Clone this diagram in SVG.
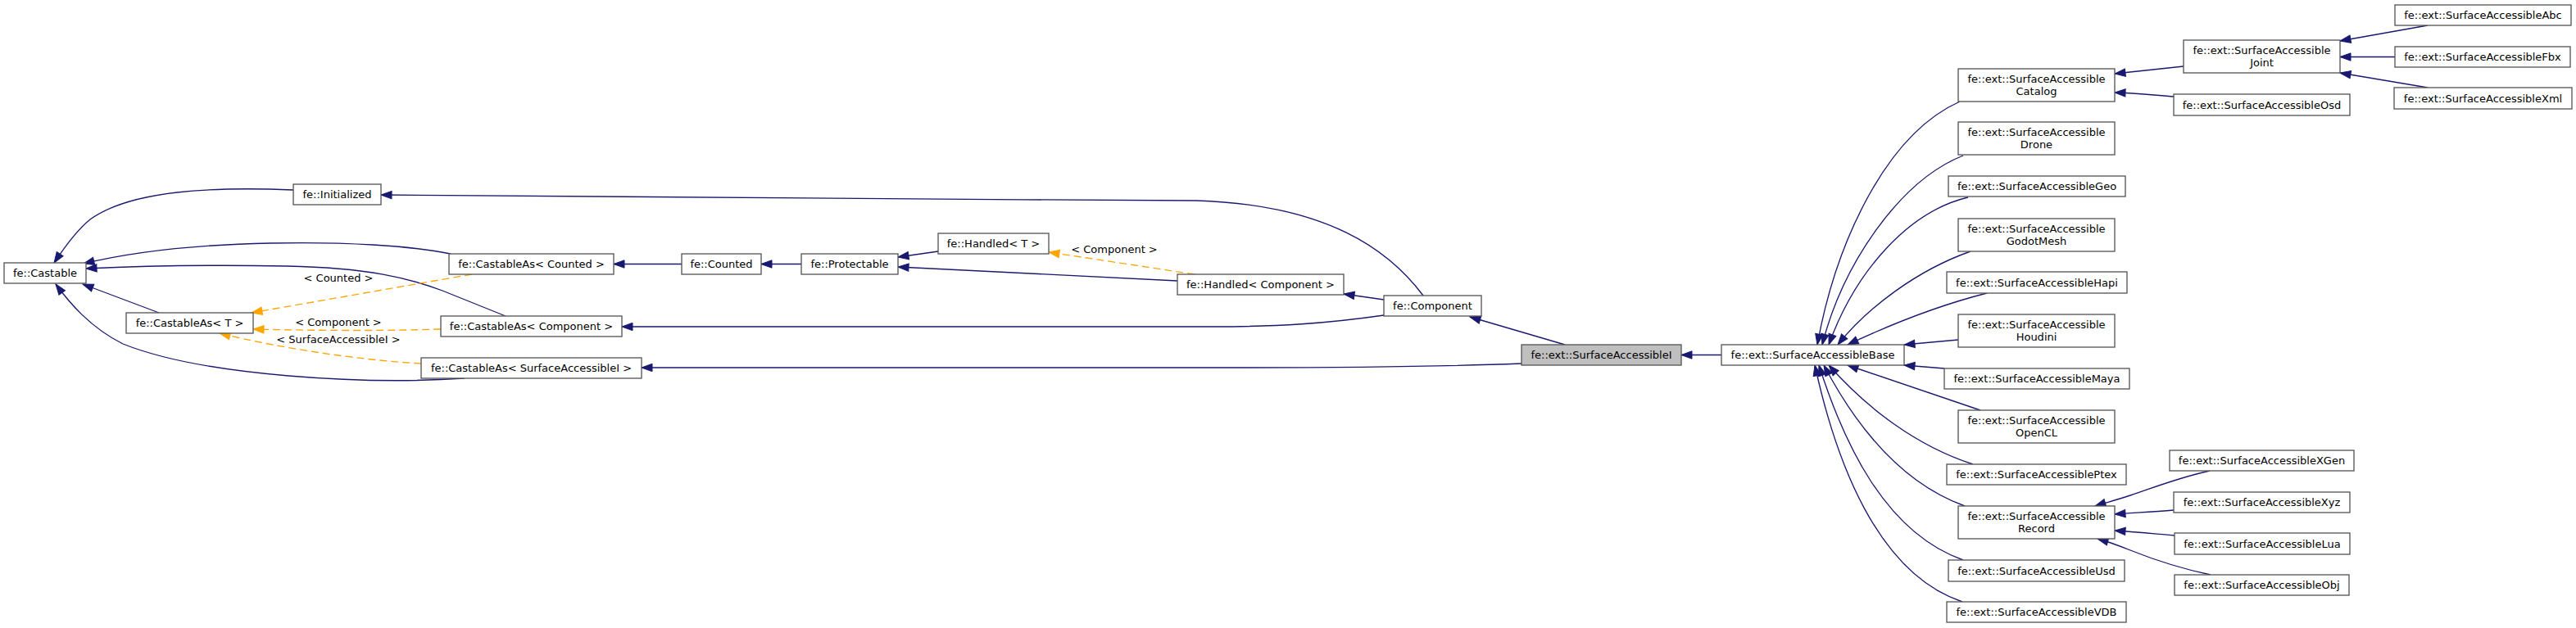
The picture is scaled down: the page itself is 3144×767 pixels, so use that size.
<svg xmlns="http://www.w3.org/2000/svg" width="3144" height="767" viewBox="0 0 3144 767">
<style>
.n rect{fill:#ffffff;stroke:#555555;stroke-width:1.33}
.n.root rect{fill:#bfbfbf}
text{font-family:"DejaVu Sans","Liberation Sans",sans-serif;font-size:13px;text-anchor:middle;fill:#000000}
.e{fill:none;stroke:#191970;stroke-width:1.33;marker-end:url(#ab)}
.d{fill:none;stroke:#ffa500;stroke-width:1.33;stroke-dasharray:9,5;marker-end:url(#ao)}
</style>
<defs>
<marker id="ab" markerUnits="userSpaceOnUse" markerWidth="16" markerHeight="12" viewBox="-14 -6 16 12" refX="0" refY="0" orient="auto"><path d="M0,0 L-13,-4.7 L-13,4.7 Z" fill="#191970" stroke="#191970" stroke-width="1"/></marker>
<marker id="ao" markerUnits="userSpaceOnUse" markerWidth="16" markerHeight="12" viewBox="-14 -6 16 12" refX="0" refY="0" orient="auto"><path d="M0,0 L-13,-4.7 L-13,4.7 Z" fill="#ffa500" stroke="#ffa500" stroke-width="1"/></marker>
</defs>
<rect x="0" y="0" width="3144" height="767" fill="#ffffff"/>
<g id="connectors">
<path class="e" d="M358,232 C260,228 160,232 110,268 C95,280 80,300 66,321"/>
<path class="e" d="M550,310 C500,300 420,295 330,297 C230,299 160,308 102,322"/>
<path class="e" d="M617,386 L540,355 C500,340 450,327 350,325 C250,323 170,325 105,328"/>
<path class="e" d="M194,382 L101,347"/>
<path class="e" d="M567,462 C450,470 250,460 150,420 C110,400 85,370 68,347"/>
<path class="d" d="M576,335 L307,382"/>
<text x="413" y="344">&lt; Counted &gt;</text>
<path class="d" d="M538,402 C480,404 400,404 309,402"/>
<text x="413" y="398">&lt; Component &gt;</text>
<path class="d" d="M514,444 C440,440 340,425 268,407"/>
<text x="413" y="419">&lt; SurfaceAccessibleI &gt;</text>
<path class="e" d="M832,322.5 L749,322.5"/>
<path class="e" d="M978,322.5 L929,322.5"/>
<path class="e" d="M1145,307 L1096,314"/>
<path class="e" d="M1437,343 L1096,326"/>
<path class="d" d="M1458,335 L1280,308"/>
<text x="1360" y="309">&lt; Component &gt;</text>
<path class="e" d="M1737,361 C1695,305 1620,250 1460,245 C1100,243 700,241 465,238"/>
<path class="e" d="M1689,366 L1640,359"/>
<path class="e" d="M1689,385 C1620,395 1560,399 1480,399 L759,399"/>
<path class="e" d="M1857,444 C1750,448 1650,449 1500,449 L783,449"/>
<path class="e" d="M1910,421 L1794,387"/>
<path class="e" d="M2101,433.5 L2052,433.5"/>
<path class="e" d="M2392,124 C2300,165 2240,300 2218,421"/>
<path class="e" d="M2396,190 C2320,220 2250,320 2224,421"/>
<path class="e" d="M2402,241 C2330,258 2265,330 2232,421"/>
<path class="e" d="M2405,307 C2340,330 2280,375 2243,421"/>
<path class="e" d="M2425,358 C2370,372 2310,395 2255,421"/>
<path class="e" d="M2390,415 L2324,421"/>
<path class="e" d="M2373,450 L2324,446"/>
<path class="e" d="M2417,501 L2255,446"/>
<path class="e" d="M2408,567 C2340,545 2280,500 2232,446"/>
<path class="e" d="M2398,618 C2320,590 2265,520 2226,446"/>
<path class="e" d="M2396,684 C2300,650 2250,540 2220,446"/>
<path class="e" d="M2395,735 C2290,700 2240,560 2215,446"/>
<path class="e" d="M2665,81 L2581,90"/>
<path class="e" d="M2653,118 C2630,116 2610,114 2581,113"/>
<path class="e" d="M2963,31 L2856,50"/>
<path class="e" d="M2923,69.5 L2856,69.5"/>
<path class="e" d="M2963,107 L2856,89"/>
<path class="e" d="M2697,575 C2660,583 2630,595 2600,605 C2585,610 2570,614 2557,618"/>
<path class="e" d="M2653,623 C2630,625 2610,626 2581,628"/>
<path class="e" d="M2654,654 C2630,652 2610,650 2581,648"/>
<path class="e" d="M2698,702 C2660,694 2630,684 2600,672 C2585,666 2575,662 2560,658"/>
</g>
<g id="castable" class="n"><rect x="5" y="321" width="100" height="25"/><text x="55" y="338">fe::Castable</text></g>
<g id="initialized" class="n"><rect x="358" y="225" width="107" height="25"/><text x="411.5" y="242">fe::Initialized</text></g>
<g id="castableas_t" class="n"><rect x="154" y="382" width="155" height="25"/><text x="231.5" y="399">fe::CastableAs&lt; T &gt;</text></g>
<g id="castableas_counted" class="n"><rect x="548" y="310" width="201" height="25"/><text x="648.5" y="327">fe::CastableAs&lt; Counted &gt;</text></g>
<g id="counted" class="n"><rect x="832" y="310" width="97" height="25"/><text x="880.5" y="327">fe::Counted</text></g>
<g id="castableas_component" class="n"><rect x="538" y="386" width="221" height="25"/><text x="648.5" y="403">fe::CastableAs&lt; Component &gt;</text></g>
<g id="castableas_sai" class="n"><rect x="514" y="437" width="269" height="25"/><text x="648.5" y="454">fe::CastableAs&lt; SurfaceAccessibleI &gt;</text></g>
<g id="protectable" class="n"><rect x="978" y="310" width="118" height="25"/><text x="1037" y="327">fe::Protectable</text></g>
<g id="handled_t" class="n"><rect x="1145" y="285" width="135" height="25"/><text x="1212.5" y="302">fe::Handled&lt; T &gt;</text></g>
<g id="handled_component" class="n"><rect x="1437" y="335" width="203" height="25"/><text x="1538.5" y="352">fe::Handled&lt; Component &gt;</text></g>
<g id="component" class="n"><rect x="1689" y="361" width="119" height="25"/><text x="1748.5" y="378">fe::Component</text></g>
<g id="sai" class="n root"><rect x="1857" y="421" width="195" height="25"/><text x="1954.5" y="438">fe::ext::SurfaceAccessibleI</text></g>
<g id="base" class="n"><rect x="2101" y="421" width="223" height="25"/><text x="2212.5" y="438">fe::ext::SurfaceAccessibleBase</text></g>
<g id="catalog" class="n"><rect x="2390" y="84" width="191" height="40"/><text x="2485.5" y="100.5">fe::ext::SurfaceAccessible</text><text x="2485.5" y="115.5">Catalog</text></g>
<g id="drone" class="n"><rect x="2390" y="149" width="191" height="40"/><text x="2485.5" y="165.5">fe::ext::SurfaceAccessible</text><text x="2485.5" y="180.5">Drone</text></g>
<g id="geo" class="n"><rect x="2378" y="215" width="216" height="25"/><text x="2486" y="232">fe::ext::SurfaceAccessibleGeo</text></g>
<g id="godotmesh" class="n"><rect x="2390" y="267" width="191" height="40"/><text x="2485.5" y="283.5">fe::ext::SurfaceAccessible</text><text x="2485.5" y="298.5">GodotMesh</text></g>
<g id="hapi" class="n"><rect x="2376" y="332" width="220" height="26"/><text x="2486" y="349.5">fe::ext::SurfaceAccessibleHapi</text></g>
<g id="houdini" class="n"><rect x="2390" y="384" width="191" height="40"/><text x="2485.5" y="400.5">fe::ext::SurfaceAccessible</text><text x="2485.5" y="415.5">Houdini</text></g>
<g id="maya" class="n"><rect x="2373" y="450" width="226" height="25"/><text x="2486" y="467">fe::ext::SurfaceAccessibleMaya</text></g>
<g id="opencl" class="n"><rect x="2390" y="501" width="191" height="40"/><text x="2485.5" y="517.5">fe::ext::SurfaceAccessible</text><text x="2485.5" y="532.5">OpenCL</text></g>
<g id="ptex" class="n"><rect x="2376" y="567" width="219" height="25"/><text x="2485.5" y="584">fe::ext::SurfaceAccessiblePtex</text></g>
<g id="record" class="n"><rect x="2390" y="618" width="191" height="40"/><text x="2485.5" y="634.5">fe::ext::SurfaceAccessible</text><text x="2485.5" y="649.5">Record</text></g>
<g id="usd" class="n"><rect x="2378" y="684" width="215" height="26"/><text x="2485.5" y="701.5">fe::ext::SurfaceAccessibleUsd</text></g>
<g id="vdb" class="n"><rect x="2376" y="735" width="219" height="25"/><text x="2485.5" y="752">fe::ext::SurfaceAccessibleVDB</text></g>
<g id="joint" class="n"><rect x="2665" y="49" width="191" height="40"/><text x="2760.5" y="65.5">fe::ext::SurfaceAccessible</text><text x="2760.5" y="80.5">Joint</text></g>
<g id="osd" class="n"><rect x="2653" y="115" width="215" height="26"/><text x="2760.5" y="132.5">fe::ext::SurfaceAccessibleOsd</text></g>
<g id="abc" class="n"><rect x="2923" y="6" width="215" height="25"/><text x="3030.5" y="23">fe::ext::SurfaceAccessibleAbc</text></g>
<g id="fbx" class="n"><rect x="2923" y="57" width="214" height="25"/><text x="3030" y="74">fe::ext::SurfaceAccessibleFbx</text></g>
<g id="xml" class="n"><rect x="2922" y="107" width="217" height="26"/><text x="3030.5" y="124.5">fe::ext::SurfaceAccessibleXml</text></g>
<g id="xgen" class="n"><rect x="2648" y="550" width="225" height="25"/><text x="2760.5" y="567">fe::ext::SurfaceAccessibleXGen</text></g>
<g id="xyz" class="n"><rect x="2653" y="601" width="215" height="25"/><text x="2760.5" y="618">fe::ext::SurfaceAccessibleXyz</text></g>
<g id="lua" class="n"><rect x="2654" y="651" width="214" height="26"/><text x="2761" y="668.5">fe::ext::SurfaceAccessibleLua</text></g>
<g id="obj" class="n"><rect x="2654" y="702" width="213" height="25"/><text x="2760.5" y="719">fe::ext::SurfaceAccessibleObj</text></g>
</svg>
